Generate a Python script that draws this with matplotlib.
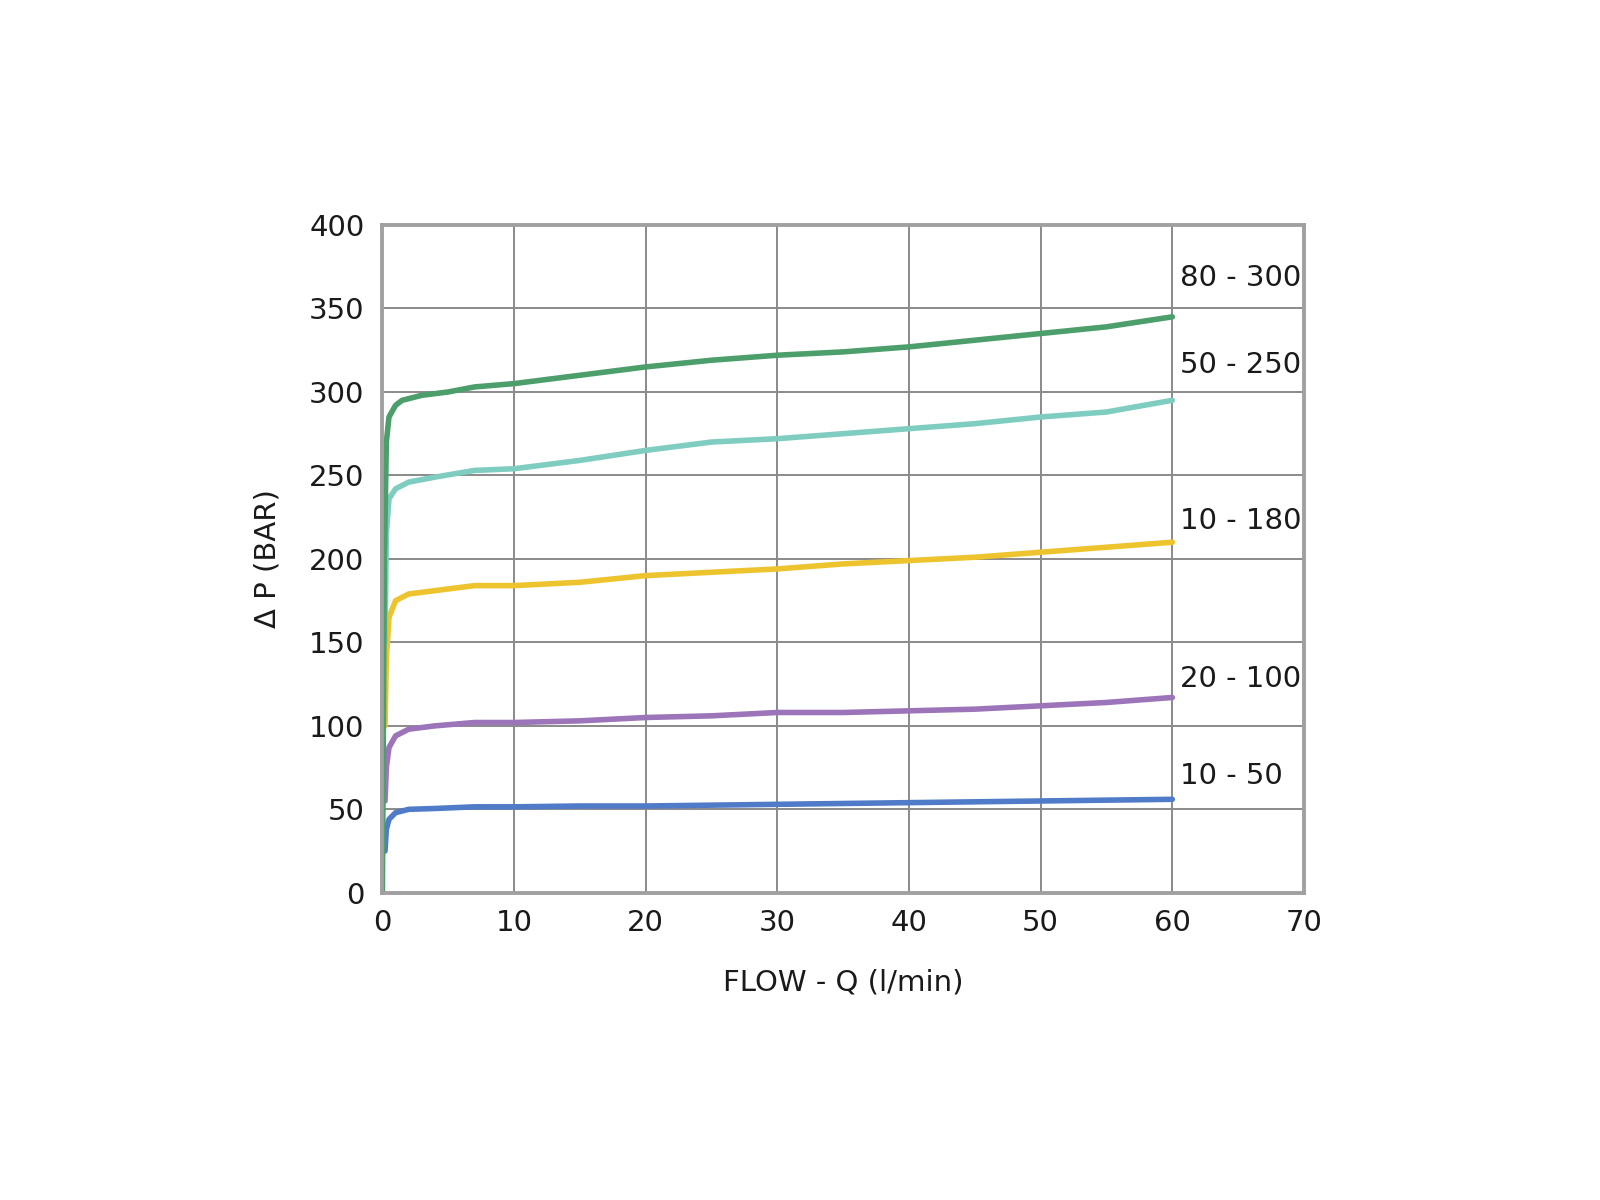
import numpy as np
import matplotlib.pyplot as plt

# flow (l/min) and pressure drop (bar)
q_green = [0, 0.15, 0.3, 0.5, 1, 1.5, 3, 5, 7, 10, 15, 20, 25, 30, 35, 40, 45, 50, 55, 60]
p_green = [0, 200, 270, 285, 292, 295, 298, 300, 303, 305, 310, 315, 319, 322, 324, 327, 331, 335, 339, 345]

q_cyan = [0.2, 0.3, 0.5, 1, 2, 4, 7, 10, 15, 20, 25, 30, 35, 40, 45, 50, 55, 60]
p_cyan = [150, 215, 236, 242, 246, 249, 253, 254, 259, 265, 270, 272, 275, 278, 281, 285, 288, 295]

q_yellow = [0.2, 0.3, 0.5, 1, 2, 4, 7, 10, 15, 20, 25, 30, 35, 40, 45, 50, 55, 60]
p_yellow = [100, 140, 165, 175, 179, 181, 184, 184, 186, 190, 192, 194, 197, 199, 201, 204, 207, 210]

q_purple = [0.2, 0.3, 0.5, 1, 2, 4, 7, 10, 15, 20, 25, 30, 35, 40, 45, 50, 55, 60]
p_purple = [55, 75, 87, 94, 98, 100, 102, 102, 103, 105, 106, 108, 108, 109, 110, 112, 114, 117]

q_blue = [0.2, 0.3, 0.5, 1, 2, 4, 7, 10, 15, 20, 25, 30, 35, 40, 45, 50, 55, 60]
p_blue = [25, 38, 44, 48, 50, 50.5, 51.5, 51.5, 52, 52, 52.5, 53, 53.5, 54, 54.5, 55, 55.5, 56]

labels = ['10 - 50', '20 - 100', '10 - 180', '50 - 250', '80 - 300']
label_y = [70, 128, 223, 316, 368]

fig = plt.figure(figsize=(16, 12), dpi=100)
ax = fig.add_axes([0.239, 0.256, 0.576, 0.5565])

lw = 4
ax.plot(q_blue, p_blue, color='#4f7bc8', lw=lw, solid_capstyle='round')
ax.plot(q_purple, p_purple, color='#9c74b9', lw=lw, solid_capstyle='round')
ax.plot(q_yellow, p_yellow, color='#eec42e', lw=lw, solid_capstyle='round')
ax.plot(q_cyan, p_cyan, color='#7fcdc1', lw=lw, solid_capstyle='round')
ax.plot(q_green, p_green, color='#4c9e6b', lw=lw, solid_capstyle='round')

for lab, y in zip(labels, label_y):
    ax.text(60.6, y, lab, fontsize=21, color='#1a1a1a', va='center', ha='left')

ax.set_xlim(0, 70)
ax.set_ylim(0, 400)
ax.set_xticks(range(0, 71, 10))
ax.set_yticks(range(0, 401, 50))
ax.grid(True, color='#8a8a8a', lw=1.4)
ax.set_axisbelow(True)
ax.tick_params(length=0, labelsize=21, pad=12, colors='#1a1a1a')
ax.tick_params(axis='y', pad=13)
for s in ax.spines.values():
    s.set_color('#a0a0a0')
    s.set_linewidth(2.8)

ax.set_xlabel('FLOW - Q (l/min)', fontsize=21, labelpad=22, color='#1a1a1a')
ax.set_ylabel('Δ P (BAR)', fontsize=21, labelpad=20, color='#1a1a1a')

fig.savefig('out.png')
